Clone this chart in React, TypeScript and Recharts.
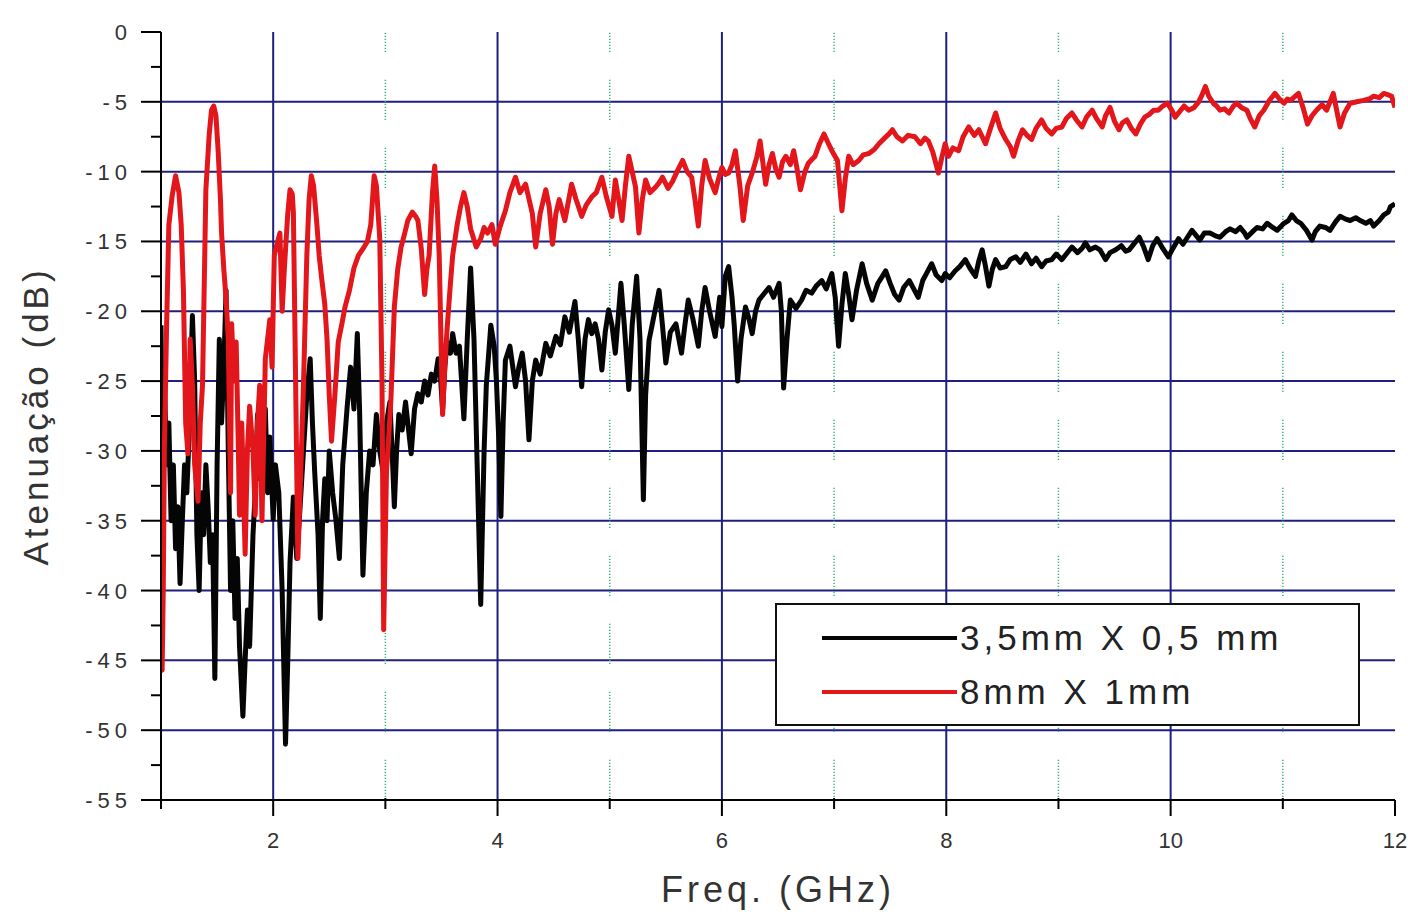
import { Legend, Line, LineChart, ReferenceLine, XAxis, YAxis } from 'recharts';

const FONT = '"Liberation Sans", Arial, sans-serif';

const X_MAJOR_TICKS = [2, 4, 6, 8, 10, 12];
const X_MINOR_TICKS = [1, 3, 5, 7, 9, 11];
const Y_MAJOR_TICKS = [0, -5, -10, -15, -20, -25, -30, -35, -40, -45, -50, -55];
const Y_MINOR_TICKS = [-2.5, -7.5, -12.5, -17.5, -22.5, -27.5, -32.5, -37.5, -42.5, -47.5, -52.5];

// 3,5mm X 0,5 mm (black trace)
const BLACK_FREQ = [
  1.0, 1.01, 1.03, 1.05, 1.07, 1.09, 1.11, 1.13, 1.15, 1.17, 1.19, 1.21, 1.23, 1.25, 1.28, 1.3, 1.32, 1.34, 1.36, 1.38,
  1.4, 1.42, 1.44, 1.46, 1.48, 1.5, 1.52, 1.54, 1.56, 1.58, 1.6, 1.62, 1.64, 1.66, 1.68, 1.7, 1.73, 1.75, 1.77, 1.79,
  1.82, 1.84, 1.86, 1.88, 1.9, 1.93, 1.95, 1.97, 2.0, 2.02, 2.05, 2.08, 2.11, 2.13, 2.15, 2.18, 2.21, 2.24, 2.27, 2.3,
  2.33, 2.35, 2.37, 2.4, 2.42, 2.44, 2.46, 2.48, 2.5, 2.53, 2.56, 2.59, 2.62, 2.66, 2.69, 2.72, 2.75, 2.77, 2.8, 2.83,
  2.86, 2.89, 2.92, 2.95, 2.98, 3.01, 3.04, 3.06, 3.08, 3.1, 3.12, 3.15, 3.18, 3.2, 3.23, 3.26, 3.29, 3.32, 3.35, 3.38,
  3.41, 3.44, 3.47, 3.49, 3.51, 3.53, 3.55, 3.58, 3.6, 3.63, 3.66, 3.7, 3.73, 3.76, 3.79, 3.82, 3.85, 3.88, 3.9, 3.94,
  3.97, 3.99, 4.01, 4.03, 4.05, 4.07, 4.11, 4.16, 4.19, 4.22, 4.25, 4.28, 4.31, 4.34, 4.38, 4.43, 4.47, 4.52, 4.56, 4.6,
  4.64, 4.69, 4.72, 4.75, 4.78, 4.81, 4.84, 4.87, 4.9, 4.93, 4.96, 4.99, 5.02, 5.05, 5.08, 5.1, 5.13, 5.17, 5.2, 5.24,
  5.27, 5.3, 5.32, 5.35, 5.39, 5.44, 5.47, 5.5, 5.54, 5.59, 5.64, 5.67, 5.7, 5.74, 5.79, 5.82, 5.85, 5.89, 5.94, 5.98,
  6.0, 6.03, 6.06, 6.09, 6.11, 6.14, 6.17, 6.21, 6.24, 6.27, 6.3, 6.33, 6.37, 6.42, 6.46, 6.51, 6.53, 6.55, 6.58, 6.61,
  6.66, 6.71, 6.75, 6.8, 6.84, 6.89, 6.93, 6.98, 7.01, 7.04, 7.07, 7.1, 7.13, 7.16, 7.2, 7.25, 7.29, 7.34, 7.39, 7.43,
  7.46, 7.5, 7.54, 7.58, 7.62, 7.67, 7.71, 7.75, 7.79, 7.83, 7.87, 7.91, 7.96, 7.99, 8.03, 8.08, 8.12, 8.17, 8.21, 8.26,
  8.29, 8.32, 8.35, 8.38, 8.41, 8.44, 8.48, 8.53, 8.57, 8.62, 8.66, 8.71, 8.76, 8.8, 8.85, 8.89, 8.94, 8.98, 9.03, 9.07,
  9.12, 9.17, 9.21, 9.24, 9.28, 9.33, 9.37, 9.42, 9.46, 9.51, 9.56, 9.6, 9.63, 9.68, 9.72, 9.76, 9.8, 9.84, 9.88, 9.93,
  9.98, 10.02, 10.07, 10.11, 10.15, 10.19, 10.23, 10.26, 10.3, 10.35, 10.4, 10.44, 10.49, 10.53, 10.58, 10.62, 10.66,
  10.68, 10.73, 10.77, 10.82, 10.86, 10.91, 10.95, 11.01, 11.05, 11.08, 11.12, 11.16, 11.21, 11.26, 11.29, 11.33, 11.38,
  11.42, 11.47, 11.51, 11.56, 11.6, 11.65, 11.69, 11.74, 11.78, 11.81, 11.86, 11.9, 11.94, 11.96, 12.0
];
const BLACK_DB = [
  -21, -29, -25, -31, -28, -35, -31, -37, -34, -39.5, -35, -31, -33, -29, -20.3, -25, -36, -40, -33, -36,
  -31, -34, -38, -36, -46.3, -31, -22, -28, -24, -18.5, -30, -40, -35, -42, -37.7, -44, -49, -45, -41.4, -44,
  -36, -33, -27.4, -32, -28, -27, -33, -29, -34.9, -31, -33, -40, -51, -45, -38, -33.3, -37.7, -34, -30, -26,
  -23.4, -28, -31.5, -36, -42, -35, -32, -35, -30, -33, -35, -37.7, -31, -26.8, -24, -27, -21.6, -27, -38.9, -33,
  -30, -31, -27.4, -30, -31.5, -28, -26.5, -30, -34, -30, -27.4, -28.5, -26.5, -28, -30.2, -27, -25.9, -26.5, -25, -26,
  -24.5, -25, -23.4, -24.5, -27.1, -24, -22.2, -23, -21.6, -23, -22.5, -27.7, -22, -16.9, -22, -31.5, -41, -30, -25.3, -21,
  -22.5, -25, -29, -34.7, -28, -23.5, -22.5, -25.4, -24, -23, -25, -29.2, -25, -23.5, -24.5, -22.3, -23.2, -21.8, -22.4, -20.4,
  -21.5, -19.3, -22, -25.4, -22, -20.6, -21.6, -20.9, -22, -24.2, -21.5, -19.9, -21, -23, -20, -18, -21, -25.6, -21, -17.5,
  -22, -33.5, -26, -22.1, -20.5, -18.5, -21, -23.7, -21.5, -20.9, -23, -21, -19.2, -20.5, -22.5, -20, -18.3, -20, -21.8, -19,
  -21.1, -17.5, -16.8, -19, -21, -25, -22, -19.7, -20.5, -21.6, -20, -19.2, -18.8, -18.3, -19, -18, -20, -25.5, -22, -19.2,
  -19.8, -19.2, -18.5, -18.7, -18.2, -17.8, -18.4, -17.3, -19, -22.5, -19.5, -17.3, -18.8, -20.6, -18.5, -16.6, -18, -19.2, -18, -17.5,
  -17.1, -18, -18.8, -19.2, -18.3, -17.8, -18.4, -19, -17.8, -17.2, -16.6, -17.4, -17.8, -17.3, -17.6, -17.1, -16.8, -16.3, -16.9, -17.5,
  -16.4, -15.6, -16.8, -18.2, -17, -16.3, -16.9, -16.8, -16.3, -16.1, -16.5, -15.9, -16.6, -16.2, -16.8, -16.4, -16.3, -15.9, -16.3, -15.9,
  -15.4, -15.8, -15.5, -15.1, -15.6, -15.4, -15.6, -16.3, -15.8, -15.6, -15.3, -15.7, -15.6, -15.1, -14.7, -15.4, -16.3, -15.3, -14.8, -15.5,
  -16.1, -15.5, -14.8, -15.2, -14.7, -14.2, -14.6, -14.9, -14.4, -14.4, -14.6, -14.7, -14.3, -14.1, -14.3, -14.0, -14.4,
  -14.7, -14.3, -14.0, -14.1, -13.7, -14.0, -14.2, -13.7, -13.5, -13.1, -13.5, -13.7, -14.2, -14.9, -14.3, -13.9, -14.0,
  -14.2, -13.6, -13.2, -13.4, -13.5, -13.3, -13.5, -13.7, -13.5, -13.9, -13.5, -13.1, -12.9, -12.5, -12.3
];

// 8mm X 1mm (red trace)
const RED_FREQ = [
  1.0, 1.01, 1.02, 1.03, 1.05, 1.07, 1.1, 1.13, 1.16, 1.18, 1.2, 1.22, 1.24, 1.26, 1.28, 1.3, 1.33, 1.35, 1.37, 1.39,
  1.4, 1.43, 1.45, 1.47, 1.49, 1.51, 1.53, 1.54, 1.56, 1.58, 1.6, 1.62, 1.63, 1.65, 1.67, 1.69, 1.7, 1.72, 1.75, 1.77,
  1.79, 1.82, 1.84, 1.86, 1.88, 1.9, 1.93, 1.95, 1.97, 1.99, 2.01, 2.04, 2.06, 2.08, 2.1, 2.13, 2.15, 2.17, 2.18, 2.2,
  2.22, 2.24, 2.27, 2.3, 2.32, 2.34, 2.36, 2.39, 2.41, 2.43, 2.46, 2.48, 2.5, 2.52, 2.55, 2.58, 2.61, 2.64, 2.68, 2.72,
  2.76, 2.81, 2.84, 2.87, 2.9, 2.92, 2.95, 2.97, 2.985, 3.01, 3.03, 3.05, 3.08, 3.11, 3.14, 3.17, 3.2, 3.24, 3.27, 3.29,
  3.32, 3.35, 3.37, 3.39, 3.42, 3.44, 3.46, 3.48, 3.51, 3.53, 3.55, 3.58, 3.6, 3.64, 3.67, 3.7, 3.73, 3.76, 3.81, 3.85,
  3.88, 3.91, 3.95, 3.98, 4.02, 4.07, 4.11, 4.16, 4.2, 4.25, 4.31, 4.34, 4.38, 4.43, 4.46, 4.49, 4.52, 4.55, 4.6, 4.66,
  4.7, 4.75, 4.79, 4.84, 4.88, 4.93, 4.97, 5.02, 5.05, 5.08, 5.11, 5.14, 5.17, 5.2, 5.23, 5.26, 5.29, 5.32, 5.36, 5.41,
  5.44, 5.47, 5.52, 5.56, 5.6, 5.65, 5.69, 5.73, 5.76, 5.79, 5.82, 5.85, 5.89, 5.94, 5.97, 6.0, 6.03, 6.06, 6.09, 6.12,
  6.16, 6.19, 6.23, 6.27, 6.31, 6.34, 6.39, 6.42, 6.45, 6.48, 6.51, 6.54, 6.57, 6.61, 6.64, 6.67, 6.7, 6.74, 6.77, 6.83,
  6.87, 6.91, 6.95, 6.98, 7.03, 7.05, 7.07, 7.1, 7.13, 7.17, 7.22, 7.26, 7.31, 7.36, 7.4, 7.45, 7.49, 7.52, 7.56, 7.61,
  7.66, 7.72, 7.77, 7.81, 7.84, 7.88, 7.93, 7.96, 7.99, 8.02, 8.06, 8.11, 8.15, 8.2, 8.25, 8.29, 8.35, 8.39, 8.44, 8.48,
  8.53, 8.57, 8.6, 8.64, 8.68, 8.72, 8.76, 8.8, 8.85, 8.89, 8.94, 8.98, 9.03, 9.07, 9.12, 9.16, 9.21, 9.25, 9.3, 9.34,
  9.39, 9.42, 9.46, 9.5, 9.54, 9.57, 9.61, 9.65, 9.69, 9.73, 9.77, 9.81, 9.85, 9.89, 9.93, 9.97, 10.01, 10.04, 10.08,
  10.12, 10.16, 10.21, 10.25, 10.28, 10.31, 10.34, 10.38, 10.41, 10.44, 10.48, 10.52, 10.56, 10.59, 10.63, 10.68, 10.71,
  10.75, 10.79, 10.83, 10.88, 10.93, 10.97, 11.01, 11.04, 11.07, 11.11, 11.14, 11.18, 11.22, 11.26, 11.3, 11.35, 11.39,
  11.42, 11.45, 11.48, 11.51, 11.55, 11.6, 11.66, 11.72, 11.77, 11.81, 11.86, 11.9, 11.94, 11.97, 12.0
];
const RED_DB = [
  -29, -45.7, -40, -29.9, -21, -13.8, -11.7, -10.3, -11.5, -13.8, -18.5, -28, -30.2, -22, -25.3, -31, -33.6, -28, -25.3, -16,
  -11.3, -7.3, -5.6, -5.3, -6, -8.6, -12, -14.4, -17, -19.1, -22, -33, -20.9, -25, -22.2, -30, -34.6, -28, -37.4, -30,
  -26.8, -30, -34.6, -28, -25.3, -35, -23.4, -22, -20.6, -24, -16, -15, -14.4, -20, -16.9, -13, -11.3, -11.6, -12.9, -25,
  -37.7, -33, -25.3, -16, -12, -10.3, -11, -13.8, -16, -17.5, -19.5, -22, -26, -29.3, -26, -22.2, -21, -19.7, -18.5, -16.9,
  -16, -15.4, -15, -13.8, -10.3, -11, -14.8, -25, -42.8, -31.5, -29, -26.2, -19.7, -17, -15.4, -14.5, -13.5, -12.9, -13.2, -13.5,
  -15.5, -18.8, -17, -16, -11.5, -9.6, -12, -16, -27.4, -24, -21.3, -18, -16, -13.8, -12.5, -11.5, -12.5, -14.1, -15.4, -14.8,
  -14, -14.4, -13.8, -15.2, -14, -12.8, -11.5, -10.4, -11.5, -10.9, -13, -15.4, -13, -11.3, -12.5, -15.2, -13, -12, -13.5, -10.9,
  -12, -13.2, -12.4, -11.8, -11.5, -10.4, -11.8, -13.2, -10.6, -12, -13.5, -11, -8.9, -10, -11.1, -14.4, -12, -10.6, -11.5, -11.1,
  -10.8, -10.4, -11.2, -10.7, -10, -9.2, -10, -10.4, -12, -13.9, -11, -9.2, -10.5, -11.5, -10.5, -9.7, -10.2, -10.1, -9.5, -8.5,
  -11, -13.5, -11, -10.1, -9, -7.8, -10.9, -9.5, -8.7, -9.8, -10.4, -9.3, -8.9, -9.5, -8.5, -9.8, -11.3, -10, -9.4, -8.9,
  -8, -7.3, -8, -8.5, -9.2, -11, -12.8, -10.5, -8.9, -9.5, -9.2, -8.8, -8.7, -8.4, -8.0, -7.6, -7.3, -7.0, -7.5, -7.8,
  -7.4, -7.5, -8.0, -7.6, -7.8, -8.6, -10.1, -9, -8.0, -8.9, -8.3, -8.5, -7.5, -6.8, -7.4, -7.0, -8.0, -7, -5.8, -6.9,
  -7.7, -8.2, -8.9, -7.8, -7.0, -7.4, -7.7, -6.9, -6.3, -6.9, -7.3, -6.9, -6.8, -6.2, -5.8, -6.3, -6.8, -6.1, -5.6, -6.2,
  -6.8, -6.0, -5.4, -6.4, -7.0, -6.5, -6.3, -6.9, -7.3, -6.6, -6.1, -5.9, -5.6, -5.6, -5.3, -5.1, -5.6, -6.1, -5.7,
  -5.3, -5.6, -5.4, -5.0, -4.5, -3.9, -4.6, -5.1, -5.3, -5.6, -5.5, -5.8, -5.3, -5.1, -5.4, -5.6, -6.2,
  -6.8, -6.0, -5.6, -4.9, -4.4, -4.8, -5.1, -4.8, -4.9, -4.6, -4.4, -5.4, -6.6, -6.0, -5.6, -5.2, -5.6,
  -5.0, -4.4, -5.6, -6.8, -5.8, -5.1, -5.0, -4.9, -4.8, -4.6, -4.7, -4.4, -4.5, -4.6, -5.4
];

const COLORS = {
  black: '#050505',
  red: '#e3161b',
  grid: '#1f1f80',
  minorGrid: '#3db37a',
  axis: '#000000',
  text: '#333333'
};

// dotted runs of ~42px with ~26px gaps
const MINOR_DASH = [...Array(13).fill('1.2 1.8'), '1.2 27.8'].join(' ');

const blackData = BLACK_FREQ.map((freq, i) => ({ freq, db: BLACK_DB[i] }));
const redData = RED_FREQ.map((freq, i) => ({ freq, db: RED_DB[i] }));

const Y_TICKS = [...Y_MAJOR_TICKS, ...Y_MINOR_TICKS].sort((a, b) => b - a);
const X_TICKS = [...X_MAJOR_TICKS, ...X_MINOR_TICKS].sort((a, b) => a - b);

const YTick = ({ x, y, payload }: any) => {
  const major = Y_MAJOR_TICKS.includes(payload.value);
  return (
    <g>
      <line x1={x} x2={x - (major ? 20 : 10)} y1={y} y2={y} stroke={COLORS.axis} strokeWidth={2} />
      {major && (
        <text
          x={x - 29}
          y={y + 8}
          textAnchor="end"
          fontFamily={FONT}
          fontSize={22}
          letterSpacing={5}
          fill={COLORS.text}
        >
          {payload.value}
        </text>
      )}
    </g>
  );
};

const XTick = ({ x, y, payload }: any) => {
  const major = X_MAJOR_TICKS.includes(payload.value);
  return (
    <g>
      <line x1={x} x2={x} y1={major ? y : y - 2} y2={y + (major ? 16 : 9)} stroke={COLORS.axis} strokeWidth={2} />
      {major && (
        <text x={x} y={y + 48} textAnchor="middle" fontFamily={FONT} fontSize={22} fill={COLORS.text}>
          {payload.value}
        </text>
      )}
    </g>
  );
};

const TopTick = ({ x, y, payload }: any) => {
  const major = X_MAJOR_TICKS.includes(payload.value);
  return <line x1={x} x2={x} y1={y} y2={y - (major ? 16 : 8)} stroke={COLORS.axis} strokeWidth={2} />;
};

const YTitle = ({ viewBox }: any) => {
  const cx = viewBox.x + 35;
  const cy = viewBox.y + viewBox.height / 2;
  return (
    <text
      x={cx}
      y={cy}
      transform={`rotate(-90 ${cx} ${cy})`}
      textAnchor="middle"
      dominantBaseline="central"
      fontFamily={FONT}
      fontSize={35}
      letterSpacing={4}
      fill={COLORS.text}
    >
      Atenuação (dB)
    </text>
  );
};

const XTitle = ({ viewBox }: any) => (
  <text
    x={viewBox.x + viewBox.width / 2}
    y={viewBox.y + 102}
    textAnchor="middle"
    fontFamily={FONT}
    fontSize={36}
    letterSpacing={4}
    fill={COLORS.text}
  >
    Freq. (GHz)
  </text>
);

const LegendBox = ({ payload }: any) => (
  <div
    style={{
      width: 585,
      height: 123,
      boxSizing: 'border-box',
      border: '2px solid #111',
      background: '#fff',
      position: 'relative',
      fontFamily: FONT
    }}
  >
    {(payload ?? []).map((item: any, i: number) => (
      <div
        key={item.value}
        style={{ position: 'absolute', left: 45, top: 11 + i * 54, height: 44, display: 'flex', alignItems: 'center' }}
      >
        <span style={{ display: 'inline-block', width: 135, height: 4, background: item.color }} />
        <span style={{ marginLeft: 3, fontSize: 35, letterSpacing: 4, color: '#222', lineHeight: '44px' }}>
          {item.value}
        </span>
      </div>
    ))}
  </div>
);

export default function App() {
  return (
    <div style={{ width: 1408, height: 916, background: '#fff', overflow: 'hidden' }}>
      <style>{'body { margin: 0; overflow: hidden; }'}</style>
      <LineChart width={1408} height={916} margin={{ top: 32, right: 13, bottom: 0, left: 0 }}>
        <XAxis
          xAxisId="bottom"
          type="number"
          dataKey="freq"
          domain={[1, 12]}
          allowDataOverflow
          ticks={X_TICKS}
          interval={0}
          tick={(props: any) => <XTick {...props} />}
          tickLine={false}
          tickSize={0}
          tickMargin={0}
          axisLine={{ stroke: COLORS.axis, strokeWidth: 2 }}
          height={116}
          label={(props: any) => <XTitle {...props} />}
        />
        <XAxis
          xAxisId="top"
          orientation="top"
          type="number"
          dataKey="freq"
          domain={[1, 12]}
          allowDataOverflow
          ticks={X_TICKS}
          interval={0}
          tick={(props: any) => <TopTick {...props} />}
          tickLine={false}
          tickSize={0}
          tickMargin={0}
          axisLine={{ stroke: COLORS.axis, strokeWidth: 2 }}
          height={0}
        />
        <YAxis
          yAxisId="left"
          type="number"
          domain={[-55, 0]}
          allowDataOverflow
          ticks={Y_TICKS}
          interval={0}
          tick={(props: any) => <YTick {...props} />}
          tickLine={false}
          tickSize={0}
          tickMargin={0}
          axisLine={{ stroke: COLORS.axis, strokeWidth: 2 }}
          width={161}
          label={(props: any) => <YTitle {...props} />}
        />
        <YAxis
          yAxisId="right"
          orientation="right"
          type="number"
          domain={[-55, 0]}
          allowDataOverflow
          tick={false}
          tickLine={false}
          axisLine={{ stroke: COLORS.grid, strokeWidth: 2 }}
          width={0}
        />
        {Y_MAJOR_TICKS.filter((v) => v !== 0 && v !== -55).map((v) => (
          <ReferenceLine
            key={`h${v}`}
            xAxisId="bottom"
            yAxisId="left"
            y={v}
            stroke={COLORS.grid}
            strokeWidth={2}
            zIndex={-50}
          />
        ))}
        {X_MAJOR_TICKS.filter((v) => v !== 12).map((v) => (
          <ReferenceLine
            key={`v${v}`}
            xAxisId="bottom"
            yAxisId="left"
            x={v}
            stroke={COLORS.grid}
            strokeWidth={2}
            zIndex={-50}
          />
        ))}
        {X_MINOR_TICKS.filter((v) => v !== 1).map((v) => (
          <ReferenceLine
            key={`m${v}`}
            xAxisId="bottom"
            yAxisId="left"
            x={v}
            stroke={COLORS.minorGrid}
            strokeWidth={1.5}
            strokeDasharray={MINOR_DASH}
            zIndex={-50}
          />
        ))}
        <Legend
          layout="horizontal"
          verticalAlign="middle"
          align="center"
          content={(props: any) => <LegendBox {...props} />}
          wrapperStyle={{ left: 775, top: 603, width: 585, height: 123 }}
        />
        <Line
          xAxisId="bottom"
          yAxisId="left"
          data={blackData}
          dataKey="db"
          name="3,5mm X 0,5 mm"
          type="linear"
          stroke={COLORS.black}
          strokeWidth={5}
          strokeLinejoin="round"
          dot={false}
          activeDot={false}
          isAnimationActive={false}
        />
        <Line
          xAxisId="bottom"
          yAxisId="left"
          data={redData}
          dataKey="db"
          name="8mm X 1mm"
          type="linear"
          stroke={COLORS.red}
          strokeWidth={5}
          strokeLinejoin="round"
          dot={false}
          activeDot={false}
          isAnimationActive={false}
        />
      </LineChart>
    </div>
  );
}
